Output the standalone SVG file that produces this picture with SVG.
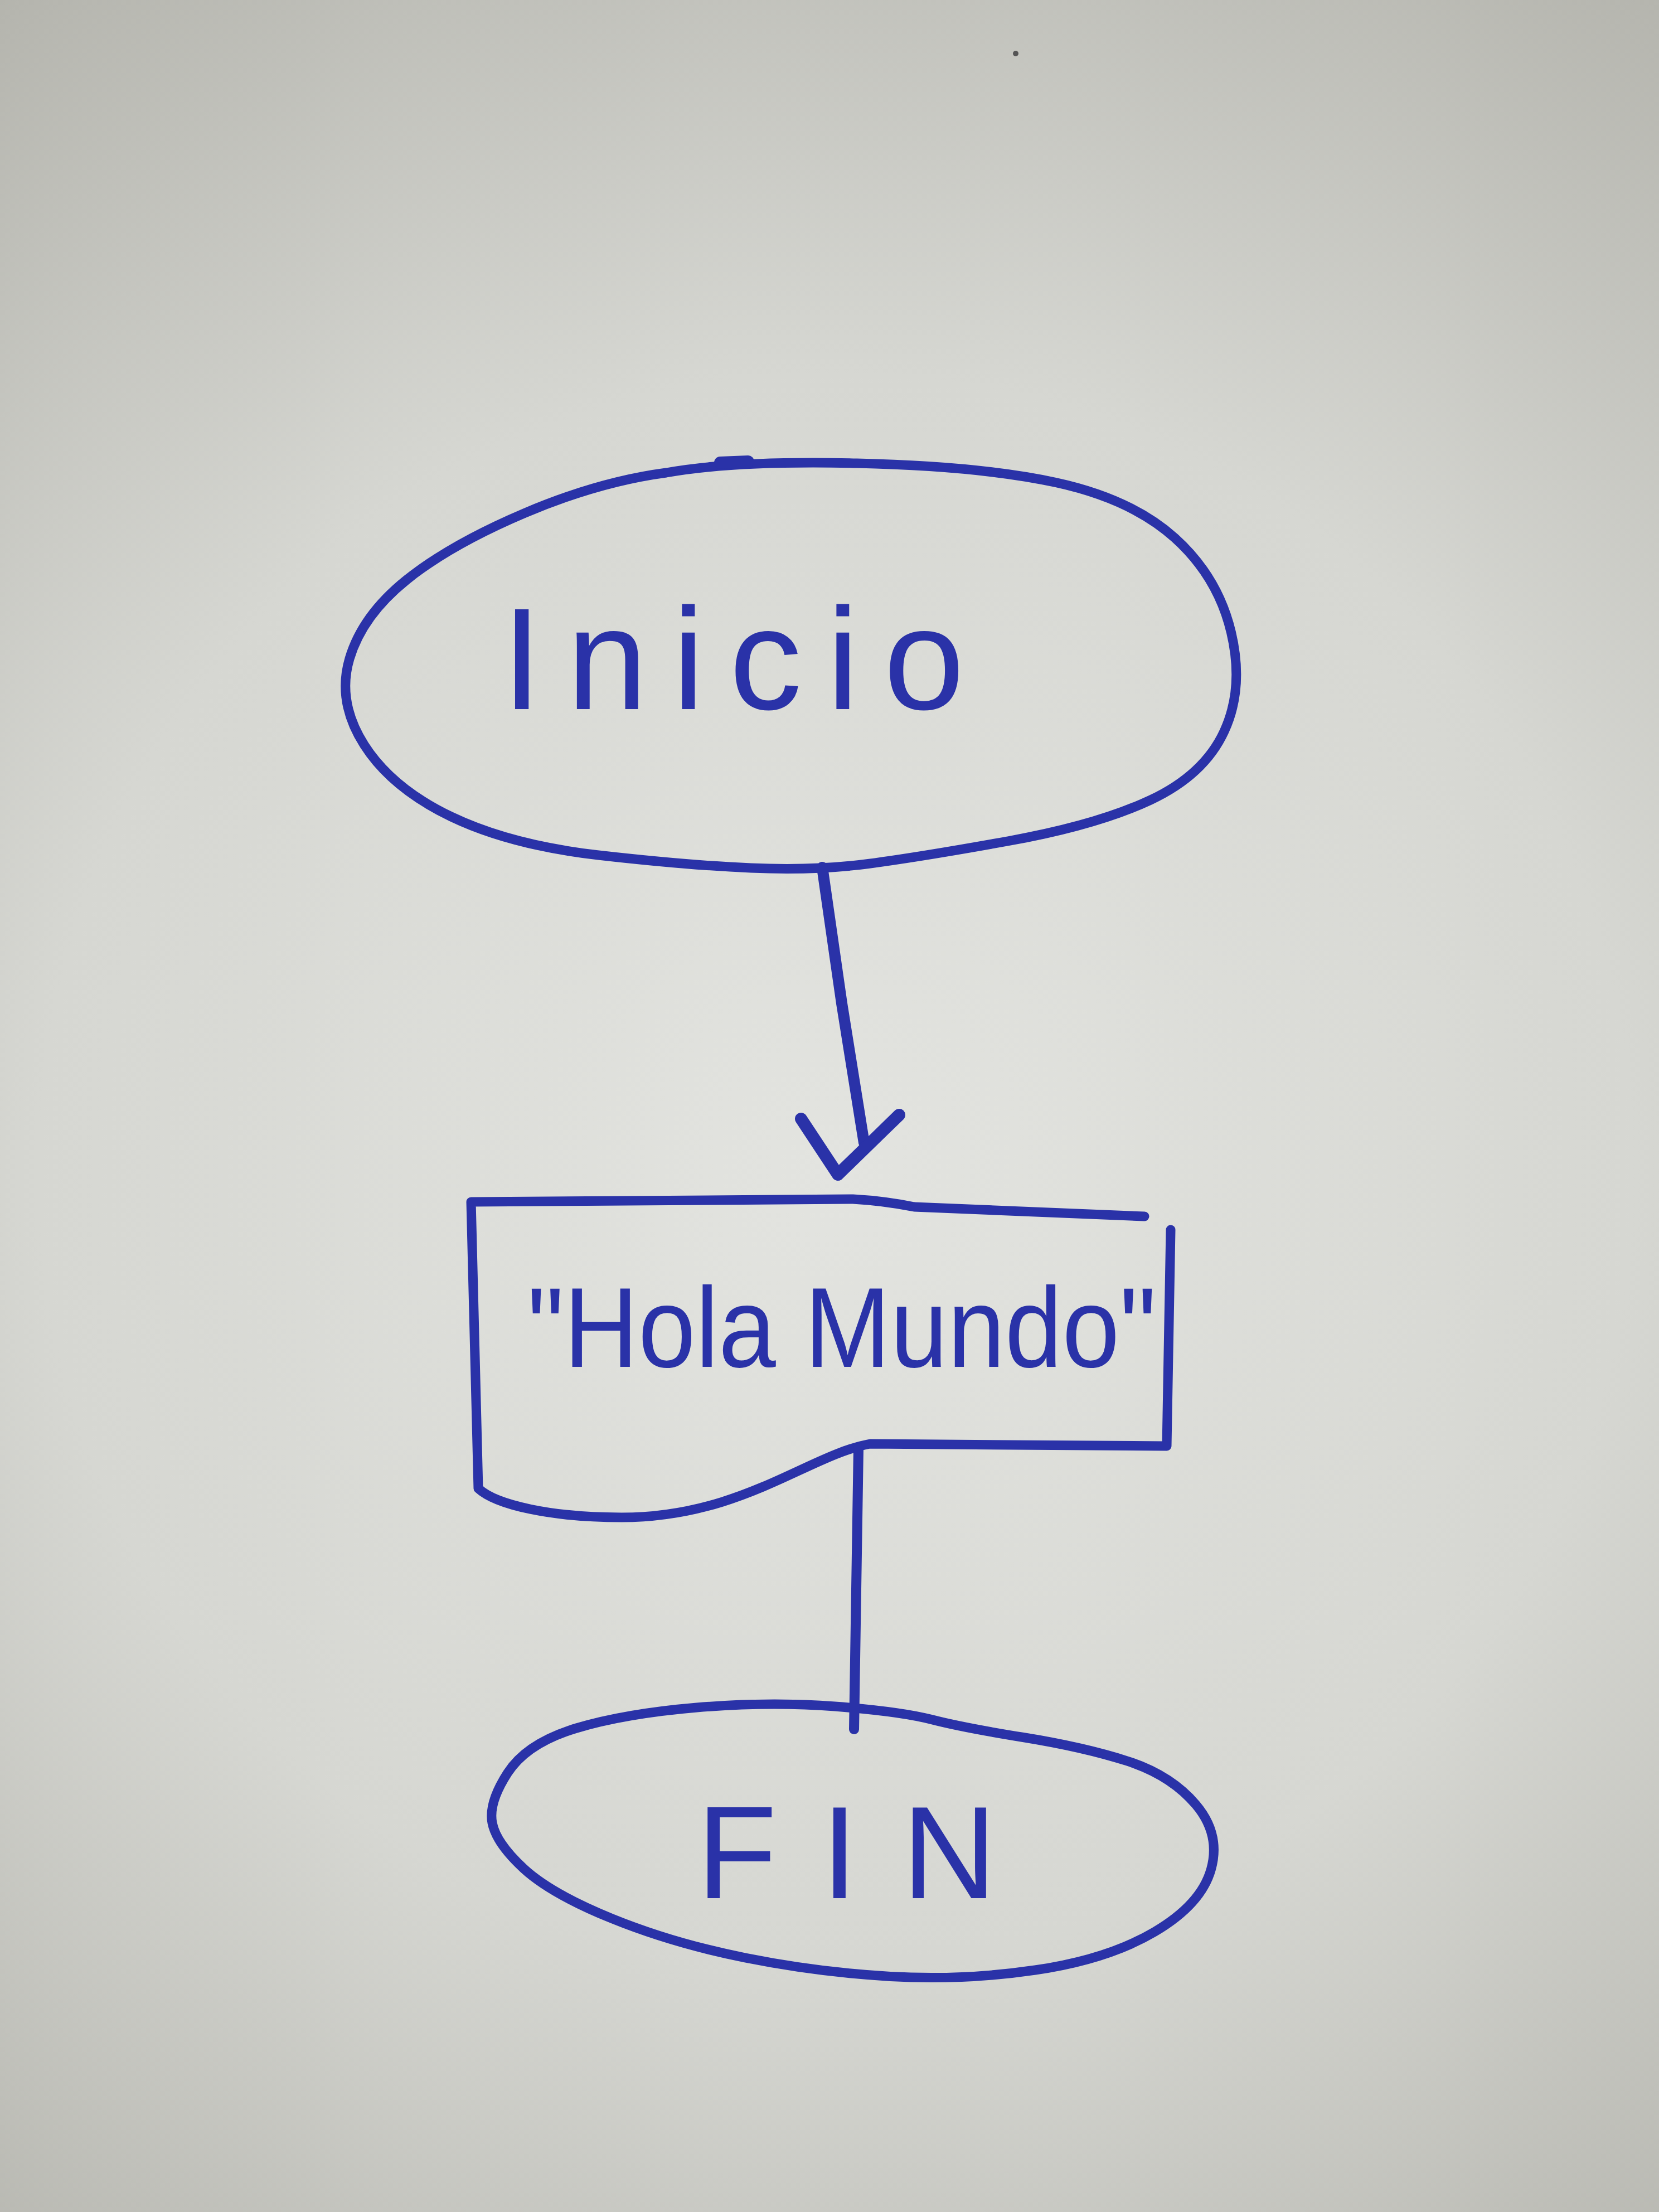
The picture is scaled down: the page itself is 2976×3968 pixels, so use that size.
<svg xmlns="http://www.w3.org/2000/svg" width="2976" height="3968" viewBox="0 0 2976 3968">
  <defs>
    <radialGradient id="paper" cx="1500" cy="2100" r="2600" gradientUnits="userSpaceOnUse">
      <stop offset="0" stop-color="#e3e4e0"/>
      <stop offset="0.55" stop-color="#d6d7d2"/>
      <stop offset="1" stop-color="#b4b4ad"/>
    </radialGradient>
    <style>
      .ink { fill: none; stroke: #2a32a8; stroke-width: 17; stroke-linecap: round; stroke-linejoin: round; }
      .lbl { fill: #2a32a8; font-family: "Liberation Sans", "DejaVu Sans", sans-serif; }
    </style>
  </defs>
  <rect x="0" y="0" width="2976" height="3968" fill="url(#paper)"/>
  <circle cx="1822" cy="96" r="5" fill="#555"/>

  <g id="node-inicio">
    <path class="ink" d="M1195,848 Q1316,826 1537,831 Q1758,836 1894,865.5 Q2030,895 2107.5,965 Q2185,1035 2208.5,1134.5 Q2232,1234 2196,1312 Q2160,1390 2064,1435 Q1968,1480 1810,1508.5 Q1652,1537 1557.5,1549.5 Q1463,1562 1347,1557 Q1231,1552 1073.5,1534 Q916,1516 809.5,1465 Q703,1414 653.5,1336.5 Q604,1259 627,1181.5 Q650,1104 729,1040.5 Q808,977 941,920.5 Q1074,864 1195,848 Z"/>
    <path class="ink" d="M1292,830 L1342,828" style="stroke-width:22"/>
    <text class="lbl" x="900" y="1272" font-size="260" textLength="830" lengthAdjust="spacing">Inicio</text>
  </g>

  <g id="node-hola">
    <path class="ink" d="M2053,2182 L1640,2165 Q1585,2154 1530,2151 L845,2156 L858,2670 C890,2700 990,2722 1115,2722 C1330,2722 1450,2610 1561,2590 L2093,2594 L2100,2206"/>
    <text class="lbl" x="946" y="2452" font-size="205" textLength="1128" lengthAdjust="spacingAndGlyphs">"Hola Mundo"</text>
  </g>

  <g id="node-fin">
    <path class="ink" d="M1032.5,3100.5 Q1120,3074 1250,3063 Q1380,3052 1497.5,3061 Q1615,3070 1671,3084.5 Q1727,3099 1835.5,3116.5 Q1944,3134 2022,3159 Q2100,3184 2145,3237 Q2190,3290 2172.5,3353 Q2155,3416 2071,3465.5 Q1987,3515 1857,3534 Q1727,3553 1597,3545.5 Q1467,3538 1337,3512 Q1207,3486 1097.5,3441.5 Q988,3397 939,3351.5 Q890,3306 883,3270 Q876,3234 910.5,3180.5 Q945,3127 1032.5,3100.5 Z"/>
    <text class="lbl" x="1250" y="3405" font-size="235" textLength="538" lengthAdjust="spacing">FIN</text>
  </g>

  <g id="connectors">
    <path class="ink" d="M1475,1556 L1510,1800 L1550,2050" style="stroke-width:20"/>
    <path class="ink" d="M1437,2007 L1503,2107 L1613,2000" style="stroke-width:22"/>
    <path class="ink" d="M1540,2598 L1532,3102" style="stroke-width:18"/>
  </g>
</svg>
